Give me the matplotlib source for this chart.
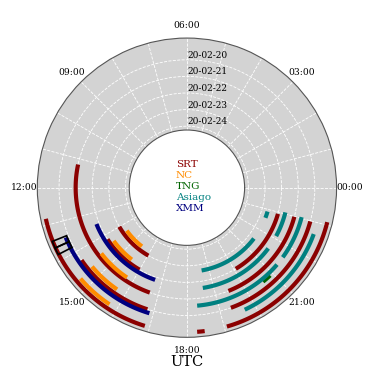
import matplotlib
matplotlib.use("Agg")
import matplotlib.pyplot as plt
import numpy as np

plt.rcParams['font.family'] = ['DejaVu Serif']

# radial position of each arc is given in days (Feb 2020), hours in UTC
dates = [20, 21, 22, 23, 24]
date_labels = ['20-02-20', '20-02-21', '20-02-22', '20-02-23', '20-02-24']
hour_ticks = list(range(24))

srt_day = [19, 20, 21, 22, 19, 19, 20, 21, 22, 23]
srt_start = [19.07, 19.34, 19.46, 20.07, 18.27, 12.83, 14.30, 11.20, 14.20, 14.00]
srt_end = [23.08, 22.98, 22.99, 22.93, 18.47, 16.87, 16.80, 16.70, 16.00, 16.03]

nc_day = [19.27, 20.27, 21.20, 22.25, 23.25]
nc_start = [14.70, 14.65, 14.50, 14.40, 14.37]
nc_end = [15.76, 15.70, 15.75, 15.50, 15.50]

tng_day = [20.42]
tng_start = [20.60]
tng_end = [20.90]

asiago_day = [19.57, 20.57, 20.57, 21.59, 21.59, 22.64, 22.64]
asiago_start = [19.69, 18.33, 21.60, 18.60, 22.10, 18.67, 22.60]
asiago_end = [22.66, 21.30, 23.04, 21.55, 23.06, 21.52, 22.90]

xmm_day = [19.81, 21.83]
xmm_start = [13.49, 13.46]
xmm_end = [16.89, 16.73]

# unfilled boxes near 13:30
box_start = [13.45, 13.64]
box_width = 0.19
box_day_in = 19.9
box_day_out = 18.97

instruments = [
    ('SRT', '#8b0000', srt_day, srt_start, srt_end),
    ('NC', '#ff8c00', nc_day, nc_start, nc_end),
    ('TNG', '#006400', tng_day, tng_start, tng_end),
    ('Asiago', '#008080', asiago_day, asiago_start, asiago_end),
    ('XMM', '#000080', xmm_day, xmm_start, xmm_end),
]


def rpos(day):
    # later dates sit closer to the centre
    return 25 - np.asarray(day, dtype=float)


def hang(h):
    return np.asarray(h, dtype=float) * 2 * np.pi / 24


fig = plt.figure(figsize=(3.75, 3.75), dpi=100)
ax = fig.add_axes([0.0995, 0.1005, 0.798, 0.798], projection='polar')
ax.set_facecolor('lightgray')

for name, col, days, t0, t1 in instruments:
    for d, a, b in zip(days, t0, t1):
        th = hang(np.linspace(a, b, 80))
        ax.plot(th, np.full_like(th, rpos(d)), color=col, lw=3,
                solid_capstyle='butt')

for s in box_start:
    ax.bar(hang(s), rpos(box_day_out) - rpos(box_day_in),
           width=hang(box_width), bottom=rpos(box_day_in), align='edge',
           fill=False, edgecolor='black', lw=1.2, zorder=3)

ax.set_rorigin(-2.705)
ax.set_ylim(0.77, 6.31)
ax.set_yticks(rpos(dates))
ax.set_yticklabels(date_labels, fontsize=6.5)
ax.set_rlabel_position(90)

ax.set_xticks(hang(hour_ticks))
ax.set_xticklabels(['%02d:00' % h if h % 3 == 0 else '' for h in hour_ticks],
                   fontsize=6.6)
ax.tick_params(axis='x', pad=-1.2)
ax.grid(True, color='white', ls='--', lw=0.6)
for sp in ax.spines.values():
    sp.set_color('#555555')
    sp.set_linewidth(0.8)

ax.set_xlabel('UTC', fontsize=10.5, labelpad=0)

for i, (name, col, *_) in enumerate(instruments):
    fig.text(0.469, 0.56 - i * 0.0293, name, color=col, fontsize=7.5,
             ha='left', va='center')

fig.savefig('out.png', dpi=100)
